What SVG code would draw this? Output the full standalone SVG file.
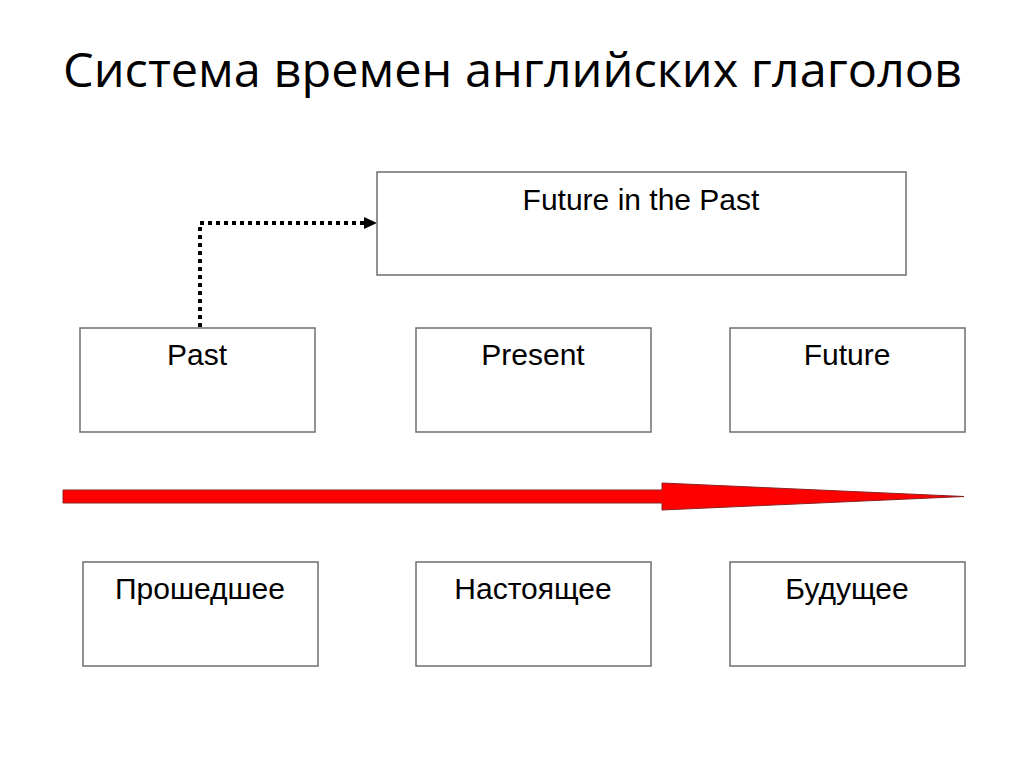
<svg xmlns="http://www.w3.org/2000/svg" width="1024" height="768" viewBox="0 0 1024 768">
<style>
.box{fill:#fff;stroke:#6e6e6e;stroke-width:1.5}
.t{font-family:"Liberation Sans",Arial,sans-serif;font-size:30px;fill:#000;text-anchor:middle}
</style>
<rect width="1024" height="768" fill="#fff"/>
<text x="63" y="87" font-family="'Open Sans','Noto Sans','DejaVu Sans',sans-serif" font-size="47" textLength="899" lengthAdjust="spacingAndGlyphs" fill="#000">Система времен английских глаголов</text>
<g id="connectors">
<path d="M200,327 V223 H365" fill="none" stroke="#000" stroke-width="4" stroke-dasharray="4,4"/>
<path d="M364,217 L377,223 L364,229 z" fill="#000"/>
<path d="M63,490 H662 V483 L964,496.5 L662,510 V503 H63 z" fill="#f00" stroke="#8a2020" stroke-width="1"/>
</g>
<g id="n-fip"><rect class="box" x="377" y="172" width="529" height="103"/><text class="t" x="641" y="210">Future in the Past</text></g>
<g id="n-past"><rect class="box" x="80" y="328" width="235" height="104"/><text class="t" x="197" y="365">Past</text></g>
<g id="n-present"><rect class="box" x="416" y="328" width="235" height="104"/><text class="t" x="533" y="365">Present</text></g>
<g id="n-future"><rect class="box" x="730" y="328" width="235" height="104"/><text class="t" x="847" y="365">Future</text></g>
<g id="n-prosh"><rect class="box" x="83" y="562" width="235" height="104"/><text class="t" x="200" y="599">Прошедшее</text></g>
<g id="n-nast"><rect class="box" x="416" y="562" width="235" height="104"/><text class="t" x="533" y="599">Настоящее</text></g>
<g id="n-bud"><rect class="box" x="730" y="562" width="235" height="104"/><text class="t" x="847" y="599">Будущее</text></g>
</svg>
